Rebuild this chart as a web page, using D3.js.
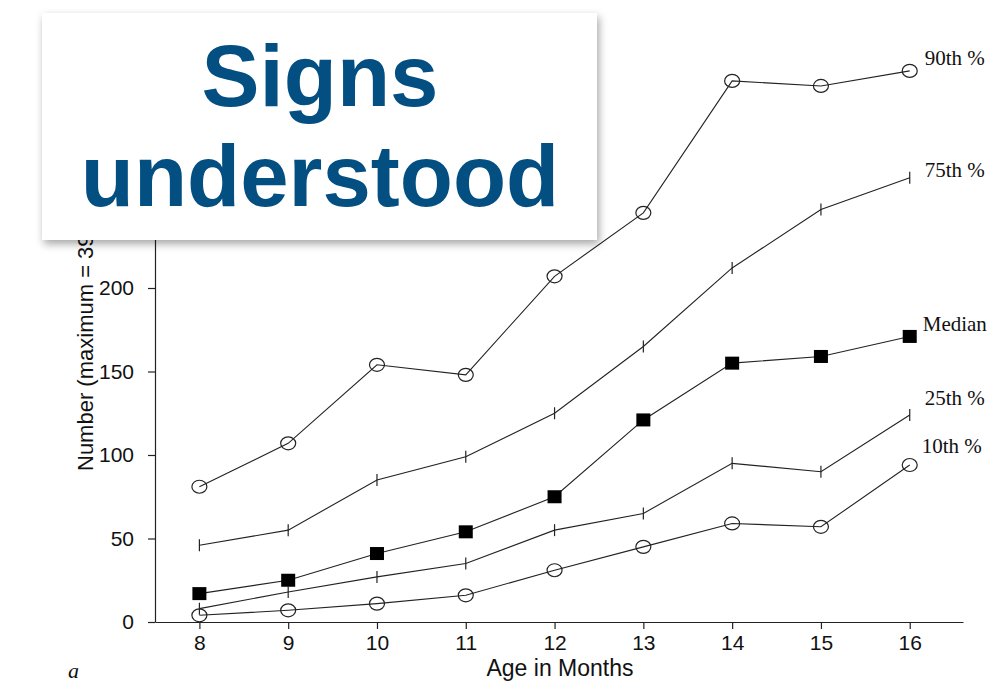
<!DOCTYPE html>
<html>
<head>
<meta charset="utf-8">
<script src="https://cdn.jsdelivr.net/npm/d3@7"></script>
<style>
  body { margin: 0; background: #fff; }
  svg { display: block; }
</style>
</head>
<body>
<div id="chart"></div>
<script>
// ages on the x axis
const ages = [8, 9, 10, 11, 12, 13, 14, 15, 16];

// percentile series
const p90 = [81, 107, 154, 148, 207, 245, 324, 321, 330];
const p75 = [46, 55, 85, 99, 125, 165, 212, 247, 266];
const median = [17, 25, 41, 54, 75, 121, 155, 159, 171];
const p25 = [8, 18, 27, 35, 55, 65, 95, 90, 124];
const p10 = [4, 7, 11, 16, 31, 45, 59, 57, 94];

// only the ticks not hidden by the title card
const yTicks = [0, 50, 100, 150, 200];

const series = [
  { name: '90th %', values: p90, marker: 'circle', labelDy: -6, labelDx: 15 },
  { name: '75th %', values: p75, marker: 'tick', labelDy: -1, labelDx: 15 },
  { name: 'Median', values: median, marker: 'square', labelDy: -5, labelDx: 13 },
  { name: '25th %', values: p25, marker: 'tick', labelDy: -10, labelDx: 15 },
  { name: '10th %', values: p10, marker: 'circle', labelDy: -12, labelDx: 12 }
];

const W = 999, H = 683;
const margin = { top: 30, right: 36, bottom: 61, left: 155 };

const svg = d3.select('#chart').append('svg')
  .attr('width', W)
  .attr('height', H);

const x = d3.scaleLinear()
  .domain([7.5, 16.6])
  .range([margin.left, W - margin.right]);

const y = d3.scaleLinear()
  .domain([0, 355])
  .range([H - margin.bottom, H - margin.bottom - 355 * 1.67]);

const ink = '#222';
const sans = 'Liberation Sans, Arial, sans-serif';
const serif = 'Liberation Serif, Times New Roman, serif';

// axes
const xAxis = svg.append('g')
  .attr('transform', `translate(0,${y(0)})`)
  .call(d3.axisBottom(x).tickValues(ages).tickSize(7).tickSizeOuter(0).tickPadding(6));
xAxis.selectAll('text')
  .attr('font-family', sans)
  .attr('font-size', '21px')
  .attr('fill', '#111');

const yAxis = svg.append('g')
  .attr('transform', `translate(${margin.left},0)`)
  .call(d3.axisLeft(y).tickValues(yTicks).tickSize(7).tickSizeOuter(0).tickPadding(14));
yAxis.selectAll('text')
  .attr('font-family', sans)
  .attr('font-size', '21px')
  .attr('fill', '#111');

svg.selectAll('.domain, .tick line')
  .attr('stroke', ink)
  .attr('stroke-width', 1.2);

// axis titles
svg.append('text')
  .attr('x', 560)
  .attr('y', 676)
  .attr('text-anchor', 'middle')
  .attr('font-family', sans)
  .attr('font-size', '23px')
  .attr('fill', '#111')
  .text('Age in Months');

svg.append('text')
  .attr('transform', 'translate(93,471) rotate(-90)')
  .attr('text-anchor', 'start')
  .attr('font-family', sans)
  .attr('font-size', '22px')
  .attr('fill', '#111')
  .text('Number (maximum = 396)');

svg.append('text')
  .attr('x', 68)
  .attr('y', 678)
  .attr('font-family', serif)
  .attr('font-style', 'italic')
  .attr('font-size', '22px')
  .attr('fill', '#111')
  .text('a');

// lines and markers
const line = d3.line()
  .x((d, i) => x(ages[i]))
  .y(d => y(d));

series.forEach(s => {
  const g = svg.append('g');

  g.append('path')
    .datum(s.values)
    .attr('d', line)
    .attr('fill', 'none')
    .attr('stroke', ink)
    .attr('stroke-width', 1.1);

  const pts = g.selectAll('.pt')
    .data(s.values)
    .enter();

  if (s.marker === 'circle') {
    pts.append('ellipse')
      .attr('cx', (d, i) => x(ages[i]))
      .attr('cy', d => y(d))
      .attr('rx', 7.5)
      .attr('ry', 6.5)
      .attr('fill', 'none')
      .attr('stroke', ink)
      .attr('stroke-width', 1.2);
  } else if (s.marker === 'square') {
    pts.append('rect')
      .attr('x', (d, i) => x(ages[i]) - 7)
      .attr('y', d => y(d) - 6.5)
      .attr('width', 14)
      .attr('height', 13)
      .attr('fill', '#000');
  } else {
    pts.append('line')
      .attr('x1', (d, i) => x(ages[i]))
      .attr('x2', (d, i) => x(ages[i]))
      .attr('y1', d => y(d) - 6)
      .attr('y2', d => y(d) + 6)
      .attr('stroke', ink)
      .attr('stroke-width', 1.2);
  }

  const last = s.values.length - 1;
  g.append('text')
    .attr('x', x(ages[last]) + s.labelDx)
    .attr('y', y(s.values[last]) + s.labelDy)
    .attr('font-family', serif)
    .attr('font-size', '21px')
    .attr('fill', '#111')
    .text(s.name);
});

// title card
const defs = svg.append('defs');
const filter = defs.append('filter')
  .attr('id', 'shadow')
  .attr('x', '-10%').attr('y', '-10%')
  .attr('width', '125%').attr('height', '130%');
filter.append('feDropShadow')
  .attr('dx', 2)
  .attr('dy', 4)
  .attr('stdDeviation', 4)
  .attr('flood-color', '#000')
  .attr('flood-opacity', 0.35);

svg.append('rect')
  .attr('x', 42)
  .attr('y', 13)
  .attr('width', 555)
  .attr('height', 227)
  .attr('fill', '#fff')
  .attr('filter', 'url(#shadow)');

const titleLines = ['Signs', 'understood'];
svg.append('g').selectAll('text')
  .data(titleLines)
  .enter()
  .append('text')
  .attr('x', 320)
  .attr('y', (d, i) => 106 + i * 100)
  .attr('text-anchor', 'middle')
  .attr('font-family', sans)
  .attr('font-weight', 'bold')
  .attr('font-size', '87px')
  .attr('fill', '#034f82')
  .text(d => d);
</script>
</body>
</html>
